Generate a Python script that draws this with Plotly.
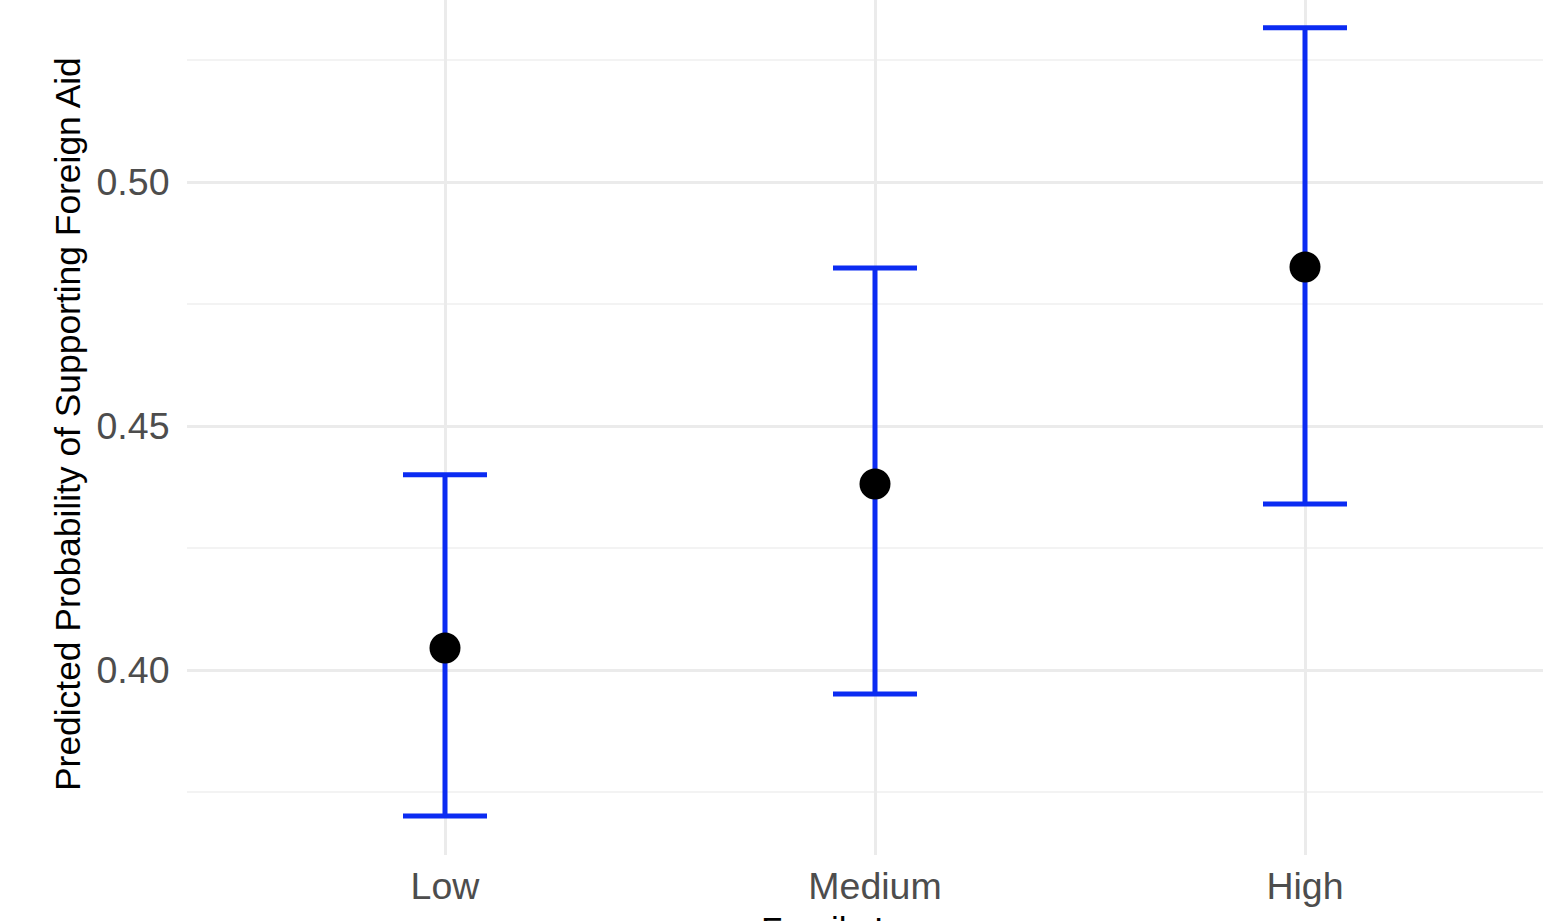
import plotly.graph_objects as go

# Predicted probabilities with confidence intervals by income group
income_levels = ["Low", "Medium", "High"]
predicted = [0.4045, 0.4381, 0.4826]
ci_lower = [0.3701, 0.3951, 0.4340]
ci_upper = [0.4400, 0.4824, 0.5316]

x_pos = list(range(len(income_levels)))
err_plus = [u - p for u, p in zip(ci_upper, predicted)]
err_minus = [p - l for p, l in zip(predicted, ci_lower)]

fig = go.Figure()
fig.add_trace(go.Scatter(
    x=x_pos,
    y=predicted,
    mode="markers",
    marker=dict(color="black", size=31),
    error_y=dict(
        type="data",
        symmetric=False,
        array=err_plus,
        arrayminus=err_minus,
        color="#0B2BF2",
        thickness=5,
        width=42,
    ),
    showlegend=False,
    hoverinfo="skip",
))

grid_major = "#EBEBEB"
grid_minor = "#F3F3F3"
tick_font = dict(family="Liberation Sans, Arial, sans-serif", size=37.5, color="#4D4D4D")

fig.update_layout(
    width=1543,
    height=921,
    margin=dict(l=187, r=0, t=0, b=66, autoexpand=False),
    paper_bgcolor="white",
    plot_bgcolor="white",
    xaxis=dict(
        range=[-0.6, 2.5535],
        tickmode="array",
        tickvals=x_pos,
        ticktext=income_levels,
        tickfont=tick_font,
        showgrid=True,
        gridcolor=grid_major,
        gridwidth=3,
        zeroline=False,
        showline=False,
        ticks="",
        ticklabelstandoff=5,
        automargin=False,
    ),
    yaxis=dict(
        range=[0.36209, 0.53730],
        tickmode="array",
        tickvals=[0.40, 0.45, 0.50],
        ticktext=["0.40", "0.45", "0.50"],
        tickfont=tick_font,
        showgrid=True,
        gridcolor=grid_major,
        gridwidth=3,
        zeroline=False,
        showline=False,
        ticks="outside",
        ticklen=9,
        tickcolor="rgba(0,0,0,0)",
        automargin=False,
        minor=dict(
            tickmode="array",
            tickvals=[0.375, 0.425, 0.475, 0.525],
            showgrid=True,
            gridcolor=grid_minor,
            gridwidth=2,
            ticks="",
        ),
    ),
    annotations=[
        dict(
            text="Predicted Probability of Supporting Foreign Aid",
            xref="paper", yref="paper",
            x=(68 - 187) / 1356, y=1 - 424 / 855,
            xanchor="center", yanchor="middle",
            textangle=-90,
            showarrow=False,
            font=dict(family="Liberation Sans, Arial, sans-serif", size=35.4, color="black"),
        ),
        dict(
            text="Family Income",
            xref="paper", yref="paper",
            x=(875 - 187) / 1356, y=-(908 - 855) / 855,
            xanchor="center", yanchor="top",
            showarrow=False,
            font=dict(family="Liberation Sans, Arial, sans-serif", size=35, color="black"),
        ),
    ],
)

fig.write_html("out.html")
